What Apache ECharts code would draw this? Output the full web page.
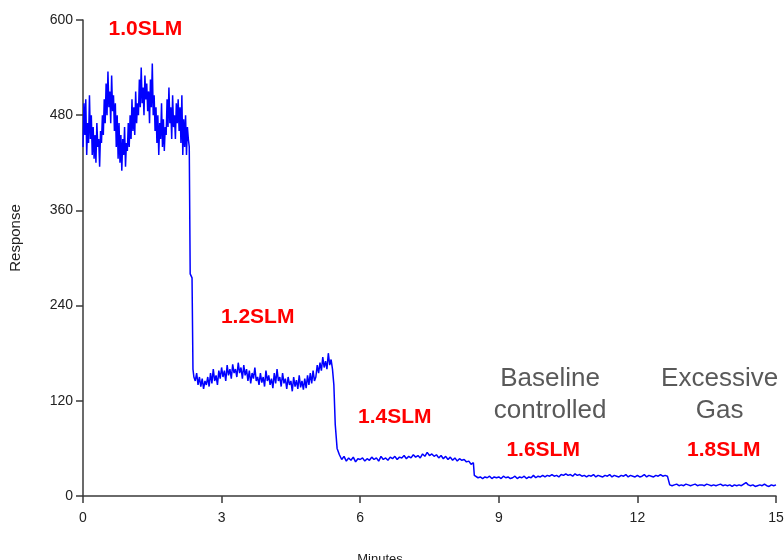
<!DOCTYPE html>
<html>
<head>
<meta charset="utf-8">
<script src="https://cdn.jsdelivr.net/npm/echarts@6/dist/echarts.min.js"></script>
<style>
html,body{margin:0;padding:0;background:#fff;}
#chart{width:784px;height:560px;}
</style>
</head>
<body>
<div id="chart"></div>
<script>
// Axis ticks
const xTicks = [0, 3, 6, 9, 12, 15];
const yTicks = [0, 120, 240, 360, 480, 600];

// Segment 1: 1.0 SLM, start 0.00 min, step 0.02 min
const seg1Start = 0.00, seg1Step = 0.02;
const seg1Values = [
  440, 495, 455, 500, 430, 470, 445, 505, 450, 480,
  430, 465, 425, 455, 420, 470, 440, 450, 415, 460,
  445, 480, 455, 500, 470, 520, 480, 535, 490, 510,
  470, 530, 485, 505, 460, 495, 440, 480, 425, 470,
  420, 455, 410, 450, 430, 465, 415, 445, 435, 470,
  440, 480, 450, 500, 460, 490, 455, 510, 470, 495,
  480, 525, 490, 540, 495, 515, 480, 530, 500, 520,
  485, 510, 470, 525, 490, 545, 480, 505, 460, 490,
  445, 480, 430, 470, 450, 495, 440, 475, 435, 465,
  455, 500, 465, 515, 470, 490, 450, 505, 465, 480,
  450, 495, 470, 500, 460, 490, 445, 505, 430, 475,
  440, 480, 430, 465, 450, 440
];
// Transition 1 -> 2
const drop1Times = [2.32, 2.36, 2.38];
const drop1Values = [280, 275, 160];

// Segment 2: 1.2 SLM, start 2.40, step 0.03
const seg2Start = 2.40, seg2Step = 0.03;
const seg2Values = [
  150, 145, 155, 140, 150, 138, 148, 135, 145, 140,
  150, 138, 155, 142, 160, 145, 152, 140, 158, 148,
  162, 150, 158, 145, 165, 152, 160, 148, 166, 155,
  160, 150, 168, 155, 162, 148, 165, 152, 160, 145,
  158, 142, 155, 148, 162, 145, 150, 140, 155, 143,
  150, 138, 158, 145, 152, 140, 148, 136, 155, 142,
  160, 145, 150, 138, 155, 142, 148, 135, 150, 140,
  145, 132, 150, 138, 146, 135, 152, 137, 145, 134,
  148, 136, 152, 140, 155, 142, 158, 145, 150, 165,
  155, 168, 158, 175, 162, 170, 160, 180, 165, 172,
  160
];
const drop2Times = [5.43, 5.46, 5.50];
const drop2Values = [140, 90, 60];

// Segment 3: 1.4 SLM, start 5.55, step 0.05
const seg3Start = 5.55, seg3Step = 0.05;
const seg3Values = [
  52, 46, 50, 44, 48, 45, 49, 43, 47, 46,
  48, 44, 47, 45, 49, 46, 48, 44, 50, 46,
  48, 45, 49, 47, 50, 46, 49, 48, 51, 47,
  50, 48, 52, 49, 51, 48, 53, 50, 55, 51,
  53, 50, 52, 48, 51, 47, 50, 46, 49, 45,
  48, 44, 47, 45, 46, 43, 44, 40
];
const drop3Times = [8.45, 8.47];
const drop3Values = [42, 26];

// Segment 4: 1.6 SLM, start 8.50, step 0.05
const seg4Start = 8.50, seg4Step = 0.05;
const seg4Values = [
  25, 23, 24, 22, 24, 23, 25, 22, 24, 23,
  24, 22, 25, 23, 24, 22, 23, 25, 22, 24,
  23, 25, 22, 24, 23, 26, 23, 25, 24, 26,
  24, 26, 25, 27, 25, 26, 24, 27, 26, 28,
  26, 27, 25, 28, 26, 27, 25, 26, 24, 26,
  25, 27, 24, 26, 25, 24, 26, 25, 27, 24,
  26, 25, 24, 26, 25, 27, 24, 26, 25, 24,
  26, 24, 25, 27, 24, 26, 25, 24, 26, 25,
  27, 25, 26, 25
];
const drop4Times = [12.69];
const drop4Values = [26];

// Segment 5: 1.8 SLM, start 12.70, step 0.05
const seg5Start = 12.70, seg5Step = 0.05;
const seg5Values = [
  14, 13, 14, 15, 13, 14, 13, 15, 14, 13,
  14, 15, 13, 14, 14, 13, 15, 14, 13, 14,
  13, 14, 15, 13, 14, 13, 14, 12, 14, 13,
  14, 13, 15, 17, 14, 13, 14, 12, 13, 14,
  13, 15, 13, 12, 14, 13, 14
];

// Annotations (data coordinates)
const flowLabels = ['1.0SLM', '1.2SLM', '1.4SLM', '1.6SLM', '1.8SLM'];
const flowLabelT = [1.35, 3.78, 6.75, 9.96, 13.87];
const flowLabelV = [588, 225, 99, 58, 58];
const noteLabels = ['Baseline\ncontrolled', 'Excessive\nGas'];
const noteLabelT = [10.11, 13.78];
const noteLabelV = [127, 127];

function seg(start, step, vals) {
  return vals.map((v, i) => [+(start + i * step).toFixed(3), v]);
}
function pairs(ts, vs) { return ts.map((t, i) => [t, vs[i]]); }

const lineData = [].concat(
  seg(seg1Start, seg1Step, seg1Values),
  pairs(drop1Times, drop1Values),
  seg(seg2Start, seg2Step, seg2Values),
  pairs(drop2Times, drop2Values),
  seg(seg3Start, seg3Step, seg3Values),
  pairs(drop3Times, drop3Values),
  seg(seg4Start, seg4Step, seg4Values),
  pairs(drop4Times, drop4Values),
  seg(seg5Start, seg5Step, seg5Values)
);

const chart = echarts.init(document.getElementById('chart'), null, {renderer: 'canvas'});
const axisColor = '#3a3a3a';
chart.setOption({
  animation: false,
  backgroundColor: '#ffffff',
  grid: {left: 83, right: 8, top: 20, bottom: 64, containLabel: false, outerBoundsMode: 'none'},
  xAxis: {
    type: 'value', min: 0, max: 15, interval: 3,
    name: 'Minutes', nameLocation: 'middle', nameGap: 57,
    nameTextStyle: {fontFamily: 'Liberation Sans', fontSize: 13, color: '#222', padding: [0, 99, 0, 0]},
    axisLine: {show: true, onZero: false, lineStyle: {color: axisColor, width: 1.5}},
    axisTick: {show: true, length: 7, lineStyle: {color: axisColor, width: 1.5}},
    axisLabel: {fontFamily: 'Liberation Sans', fontSize: 14, color: '#222', margin: 15,
      formatter: v => xTicks.includes(v) ? String(v) : ''},
    splitLine: {show: false}
  },
  yAxis: {
    type: 'value', min: 0, max: 600, interval: 120,
    name: 'Response', nameLocation: 'middle', nameGap: 60,
    nameTextStyle: {fontFamily: 'Liberation Sans', fontSize: 15, color: '#222', padding: [0, 0, 0, 40]},
    axisLine: {show: true, lineStyle: {color: axisColor, width: 1.5}},
    axisTick: {show: true, length: 7, lineStyle: {color: axisColor, width: 1.5}},
    axisLabel: {fontFamily: 'Liberation Sans', fontSize: 14, color: '#222', margin: 10,
      formatter: v => yTicks.includes(v) ? String(v) : ''},
    splitLine: {show: false}
  },
  series: [
    {
      type: 'line', data: lineData, showSymbol: false, symbol: 'none',
      lineStyle: {color: '#0000ff', width: 1.5}, clip: true
    },
    {
      type: 'scatter', symbolSize: 0, silent: true, itemStyle: {opacity: 1},
      data: flowLabels.map((s, i) => ({value: [flowLabelT[i], flowLabelV[i]], name: s})),
      label: {show: true, position: 'inside', formatter: p => p.name, opacity: 1,
        fontFamily: 'Liberation Sans', fontWeight: 'bold', fontSize: 21, color: '#ff0000'}
    },
    {
      type: 'scatter', symbolSize: 0, silent: true, itemStyle: {opacity: 1},
      data: noteLabels.map((s, i) => ({value: [noteLabelT[i], noteLabelV[i]], name: s})),
      label: {show: true, position: 'inside', formatter: p => p.name, align: 'center', opacity: 1,
        fontFamily: 'Liberation Sans', fontSize: 26, lineHeight: 32, color: '#595959'}
    }
  ]
});
</script>
</body>
</html>
